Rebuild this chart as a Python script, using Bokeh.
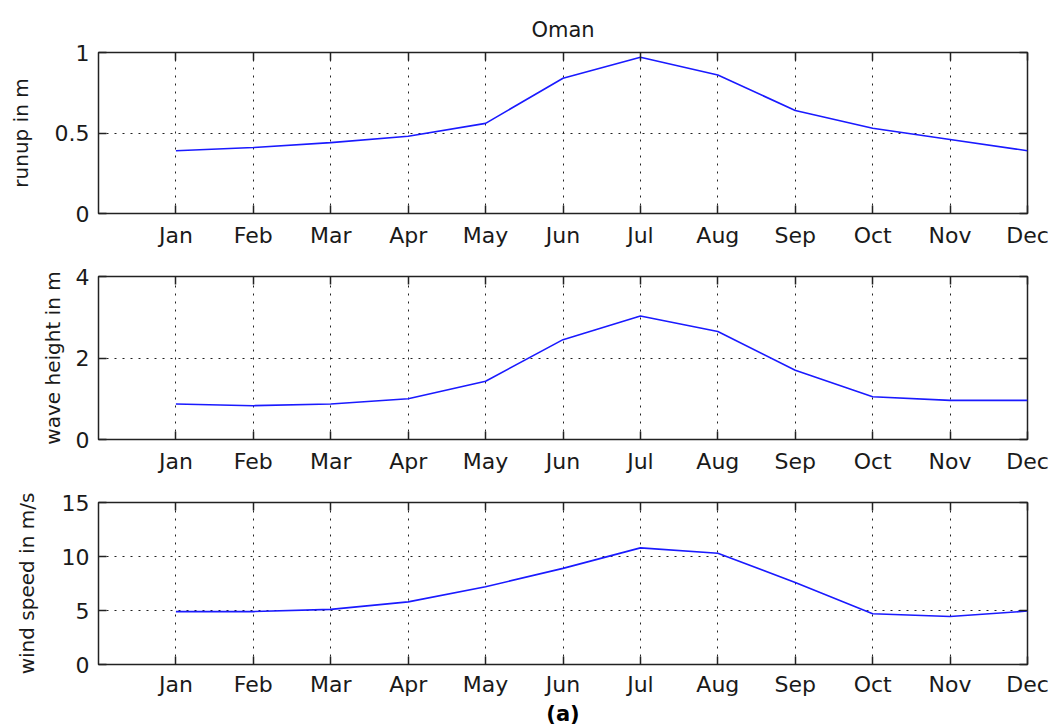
from bokeh.plotting import figure
from bokeh.layouts import column
from bokeh.models import Range1d, FixedTicker, LinearAxis, Title
from bokeh.embed import file_html
from bokeh.resources import INLINE

months = ["Jan", "Feb", "Mar", "Apr", "May", "Jun", "Jul", "Aug", "Sep", "Oct", "Nov", "Dec"]
month_idx = list(range(1, 13))
runup = [0.39, 0.41, 0.44, 0.48, 0.56, 0.84, 0.97, 0.86, 0.64, 0.53, 0.46, 0.39]
wave_height = [0.87, 0.83, 0.87, 1.00, 1.43, 2.45, 3.03, 2.65, 1.70, 1.05, 0.96, 0.96]
wind_speed = [4.9, 4.9, 5.1, 5.8, 7.2, 8.9, 10.8, 10.3, 7.6, 4.7, 4.45, 4.95]

runup_ticks = [0, 0.5, 1]
wave_ticks = [0, 2, 4]
wind_ticks = [0, 5, 10, 15]

FONT = "DejaVu Sans"
TXT = "#1a1a1a"


def make_panel(yvals, ymax, yticks, ylabel, height, top, bottom, label_standoff, xlabel_standoff=9):
    p = figure(width=1051, height=height, output_backend="svg", toolbar_location=None,
               x_range=Range1d(0, 12), y_range=Range1d(0, ymax),
               min_border_left=98, min_border_right=24,
               min_border_top=top, min_border_bottom=bottom)
    p.background_fill_color = "white"
    p.border_fill_color = "white"
    p.outline_line_color = "#222222"
    p.outline_line_width = 1.5

    p.xaxis.ticker = FixedTicker(ticks=month_idx)
    p.xaxis.major_label_overrides = {i: m for i, m in zip(month_idx, months)}
    p.yaxis.ticker = FixedTicker(ticks=yticks)
    p.yaxis.major_label_overrides = {t: (str(t) if not float(t).is_integer() else str(int(t))) for t in yticks}

    for ax in (p.xaxis[0], p.yaxis[0]):
        ax.major_tick_in = 8
        ax.major_tick_out = 0
        ax.minor_tick_in = 0
        ax.minor_tick_out = 0
        ax.major_tick_line_color = "#222222"
        ax.major_tick_line_width = 1.5
        ax.axis_line_color = None
        ax.major_label_text_font = FONT
        ax.major_label_text_font_size = "22px"
        ax.major_label_text_color = TXT
        ax.major_label_standoff = 9
    p.xaxis.major_label_standoff = xlabel_standoff
    p.yaxis.axis_label = ylabel
    p.yaxis.axis_label_text_font = FONT
    p.yaxis.axis_label_text_font_size = "20px"
    p.yaxis.axis_label_text_font_style = "normal"
    p.yaxis.axis_label_text_color = TXT
    p.yaxis.axis_label_standoff = label_standoff

    top_ax = LinearAxis(ticker=FixedTicker(ticks=month_idx))
    top_ax.major_label_overrides = {i: "" for i in month_idx}
    right_ax = LinearAxis(ticker=FixedTicker(ticks=yticks))
    right_ax.major_label_overrides = {t: "" for t in yticks}
    for ax in (top_ax, right_ax):
        ax.major_tick_in = 8
        ax.major_tick_out = 0
        ax.minor_tick_in = 0
        ax.minor_tick_out = 0
        ax.major_tick_line_color = "#222222"
        ax.major_tick_line_width = 1.5
        ax.axis_line_color = None
        ax.major_label_text_font_size = "8px"
        ax.major_label_standoff = 0
    p.add_layout(top_ax, "above")
    p.add_layout(right_ax, "right")

    p.xgrid.grid_line_color = "#222222"
    p.ygrid.grid_line_color = "#222222"
    p.xgrid.grid_line_dash = "2 6"
    p.ygrid.grid_line_dash = "2 6"
    p.xgrid.grid_line_width = 1
    p.ygrid.grid_line_width = 1

    p.line(month_idx, yvals, line_color="#1a1aff", line_width=1.6)
    return p


p1 = make_panel(runup, 1, runup_ticks, "runup in m", 255, 52, 42, 19)
p2 = make_panel(wave_height, 4, wave_ticks, "wave height in m", 225, 21, 41, 8)
p3 = make_panel(wind_speed, 15, wind_ticks, "wind speed in m/s", 245, 22, 61, 20, xlabel_standoff=7)

p1.title.text = "Oman"
p1.title.align = "center"
p1.title.text_font = FONT
p1.title.text_font_size = "21px"
p1.title.text_font_style = "normal"
p1.title.text_color = TXT
p1.title.standoff = 21

p3.add_layout(Title(text="(a)", align="center", offset=-17, standoff=0, text_font=FONT,
                    text_font_size="21px", text_font_style="bold", text_color="black"), "below")

layout = column(p1, p2, p3, spacing=0)
open("out.html", "w").write(file_html(layout, INLINE))
